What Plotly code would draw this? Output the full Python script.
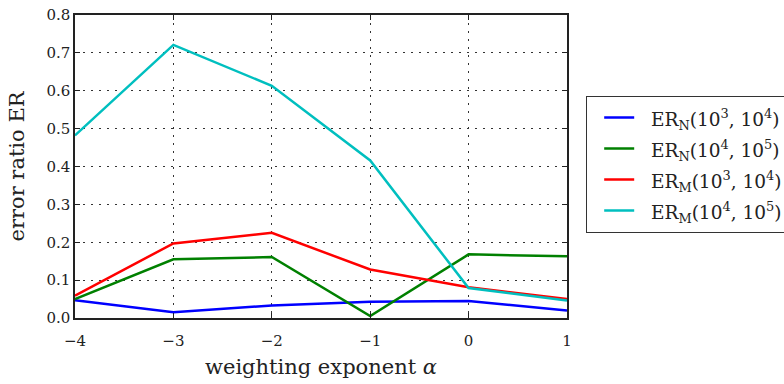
import plotly.graph_objects as go

alpha = [-4, -3, -2, -1, 0, 1]
er_n_3_4 = [0.047, 0.015, 0.033, 0.043, 0.045, 0.020]
er_n_4_5 = [0.050, 0.155, 0.161, 0.005, 0.168, 0.163]
er_m_3_4 = [0.059, 0.197, 0.225, 0.128, 0.081, 0.050]
er_m_4_5 = [0.482, 0.721, 0.613, 0.416, 0.079, 0.046]

names = [
    "ER<sub>N</sub>(10<sup>3</sup>, 10<sup>4</sup>)",
    "ER<sub>N</sub>(10<sup>4</sup>, 10<sup>5</sup>)",
    "ER<sub>M</sub>(10<sup>3</sup>, 10<sup>4</sup>)",
    "ER<sub>M</sub>(10<sup>4</sup>, 10<sup>5</sup>)",
]
series = [er_n_3_4, er_n_4_5, er_m_3_4, er_m_4_5]
colors = ["#0000ff", "#008000", "#ff0000", "#00bfbf"]

fig = go.Figure()
for nm, ys, c in zip(names, series, colors):
    fig.add_trace(go.Scatter(
        x=alpha, y=ys, mode="lines",
        name="<span style='font-size:18.5px'>\u00a0\u00a0" + nm + "</span>",
        line=dict(color=c, width=2.5)))

FONT = "DejaVu Serif"
axis_common = dict(
    showline=True, linecolor="#222", linewidth=1.5, mirror="ticks",
    ticks="inside", ticklen=5, tickwidth=1.2, tickcolor="#222",
    showgrid=True, gridcolor="#333", gridwidth=1, griddash="2px,6px",
    zeroline=False, automargin=False,
    tickfont=dict(family=FONT, size=15, color="#222"),
)

fig.update_xaxes(range=[-4, 1], tickvals=alpha, ticklabelstandoff=8, **axis_common,
                 title=dict(text="weighting exponent <i>α</i>",
                            font=dict(family=FONT, size=21, color="#222"), standoff=11))
fig.update_yaxes(range=[0, 0.8], dtick=0.1, tickformat=".1f", **axis_common,
                 title=dict(text="error ratio ER",
                            font=dict(family=FONT, size=21, color="#222"), standoff=16))

fig.update_layout(
    width=784, height=384,
    margin=dict(l=75, r=217, t=15, b=65.5, autoexpand=False),
    plot_bgcolor="white", paper_bgcolor="white",
    font=dict(family=FONT, color="#222"),
    legend=dict(x=1.0386, xanchor="left", y=0.733, yanchor="top",
                bordercolor="#333", borderwidth=1.2, bgcolor="white",
                indentation=12,
                font=dict(family=FONT, size=21.5, color="#222")),
)

fig.write_html("out.html")
